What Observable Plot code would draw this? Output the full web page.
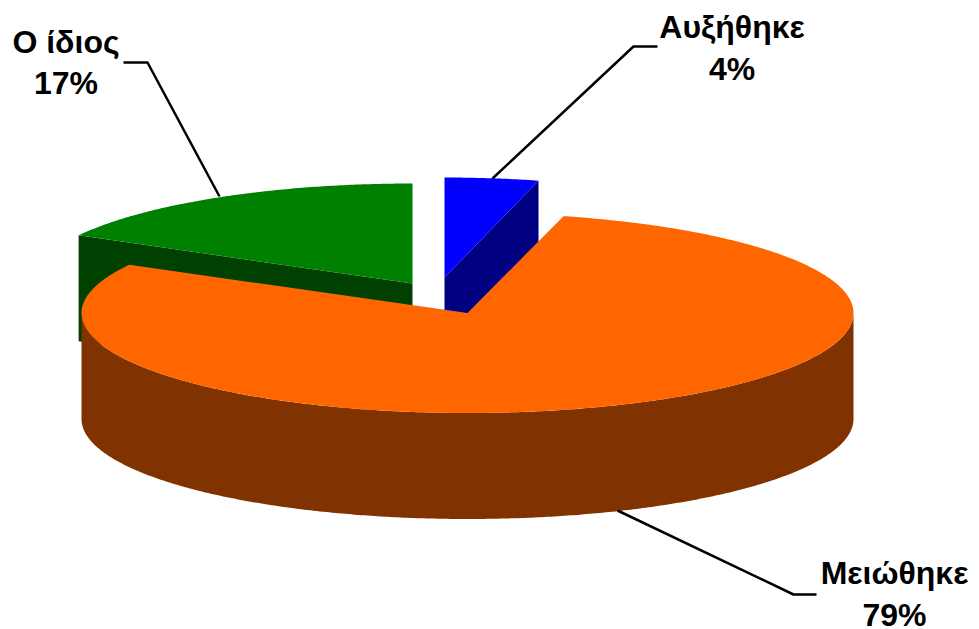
<!DOCTYPE html>
<html>
<head>
<meta charset="utf-8">
<style>
html,body{margin:0;padding:0;background:#fff}
svg{display:block}
</style>
<script src="https://cdn.jsdelivr.net/npm/d3@7"></script>
<script src="https://cdn.jsdelivr.net/npm/@observablehq/plot@0.6"></script>
</head>
<body>
<script>
// Slices, clockwise from 12 o'clock
const categories = ["Αυξήθηκε", "Μειώθηκε", "Ο ίδιος"];
const shares = [4, 79, 17];
const topColors = ["#0000FF", "#FF6600", "#008000"];
const sideColors = ["#000080", "#803300", "#004000"];
// Slice centres on the chart plane (exploded slices sit apart)
const centreX = [444, 467, 412];
const centreY = [277, 312.5, 283];
// Pie shape
const radiiX = [378, 386, 381];
const radiusY = 100, depth = 106;
// Leader lines: [slice edge, elbow, label end]
const leaderX = [[492, 633, 657], [617, 793, 816], [219, 147, 123]];
const leaderY = [[178, 46, 46], [510, 594, 594], [196, 62, 62]];
// Labels
const labelX = [731.5, 894, 65.5];
const nameY = [37, 583, 52];
const pctY = [79, 625, 93];

const toRad = Math.PI / 180;
let cum = 0;
const slices = shares.map((s, i) => {
  const a0 = cum * 3.6;
  cum += s;
  return {i, a0, a1: cum * 3.6, cx: centreX[i], cy: centreY[i], rx: radiiX[i]};
});
const rim = (s, a, dz = 0) => ({
  x: s.cx + s.rx * Math.sin(a * toRad),
  y: s.cy - radiusY * Math.cos(a * toRad) + dz
});
const arc = (s, a0, a1, dz = 0) => {
  const n = Math.max(2, Math.ceil(Math.abs(a1 - a0) * 2));
  return d3.range(n + 1).map(k => rim(s, a0 + (a1 - a0) * k / n, dz));
};
const topFace = s => [{x: s.cx, y: s.cy}, ...arc(s, s.a0, s.a1)];
// wall along a radial cut
const cutWall = (s, a) => {
  const p = rim(s, a), q = rim(s, a, depth);
  return [{x: s.cx, y: s.cy}, p, q, {x: s.cx, y: s.cy + depth}];
};
// front-facing outer wall
const frontWall = s => {
  const a0 = Math.max(s.a0, 90), a1 = Math.min(s.a1, 270);
  return [...arc(s, a0, a1), ...arc(s, a1, a0, depth)];
};
const poly = (pts, fill) =>
  Plot.line(pts, {x: "x", y: "y", fill, stroke: "none"});

const [up, down, same] = slices;
const leaders = leaderX.flatMap((xs, i) => xs.map((x, k) => ({x, y: leaderY[i][k], i})));
const labels = categories.flatMap((c, i) => [
  {t: c, x: labelX[i], y: nameY[i]},
  {t: shares[i] + "%", x: labelX[i], y: pctY[i]}
]);

document.body.append(Plot.plot({
  width: 979,
  height: 629,
  margin: 0,
  x: {domain: [0, 979], axis: null},
  y: {domain: [0, 629], range: [0, 629], axis: null},
  style: {background: "#fff", fontFamily: "'Liberation Sans', Arial, sans-serif"},
  marks: [
    poly(cutWall(same, same.a0), sideColors[2]),
    poly(topFace(same), topColors[2]),
    poly(cutWall(up, up.a1), sideColors[0]),
    poly(topFace(up), topColors[0]),
    poly(frontWall(down), sideColors[1]),
    poly(topFace(down), topColors[1]),
    Plot.line(leaders, {x: "x", y: "y", z: "i", stroke: "#000", strokeWidth: 2.5, strokeLinecap: "butt"}),
    Plot.text(labels, {x: "x", y: "y", text: "t", lineAnchor: "bottom", textAnchor: "middle",
      fontSize: 32, fontWeight: 700, fill: "#000"})
  ]
}));
</script>
</body>
</html>
